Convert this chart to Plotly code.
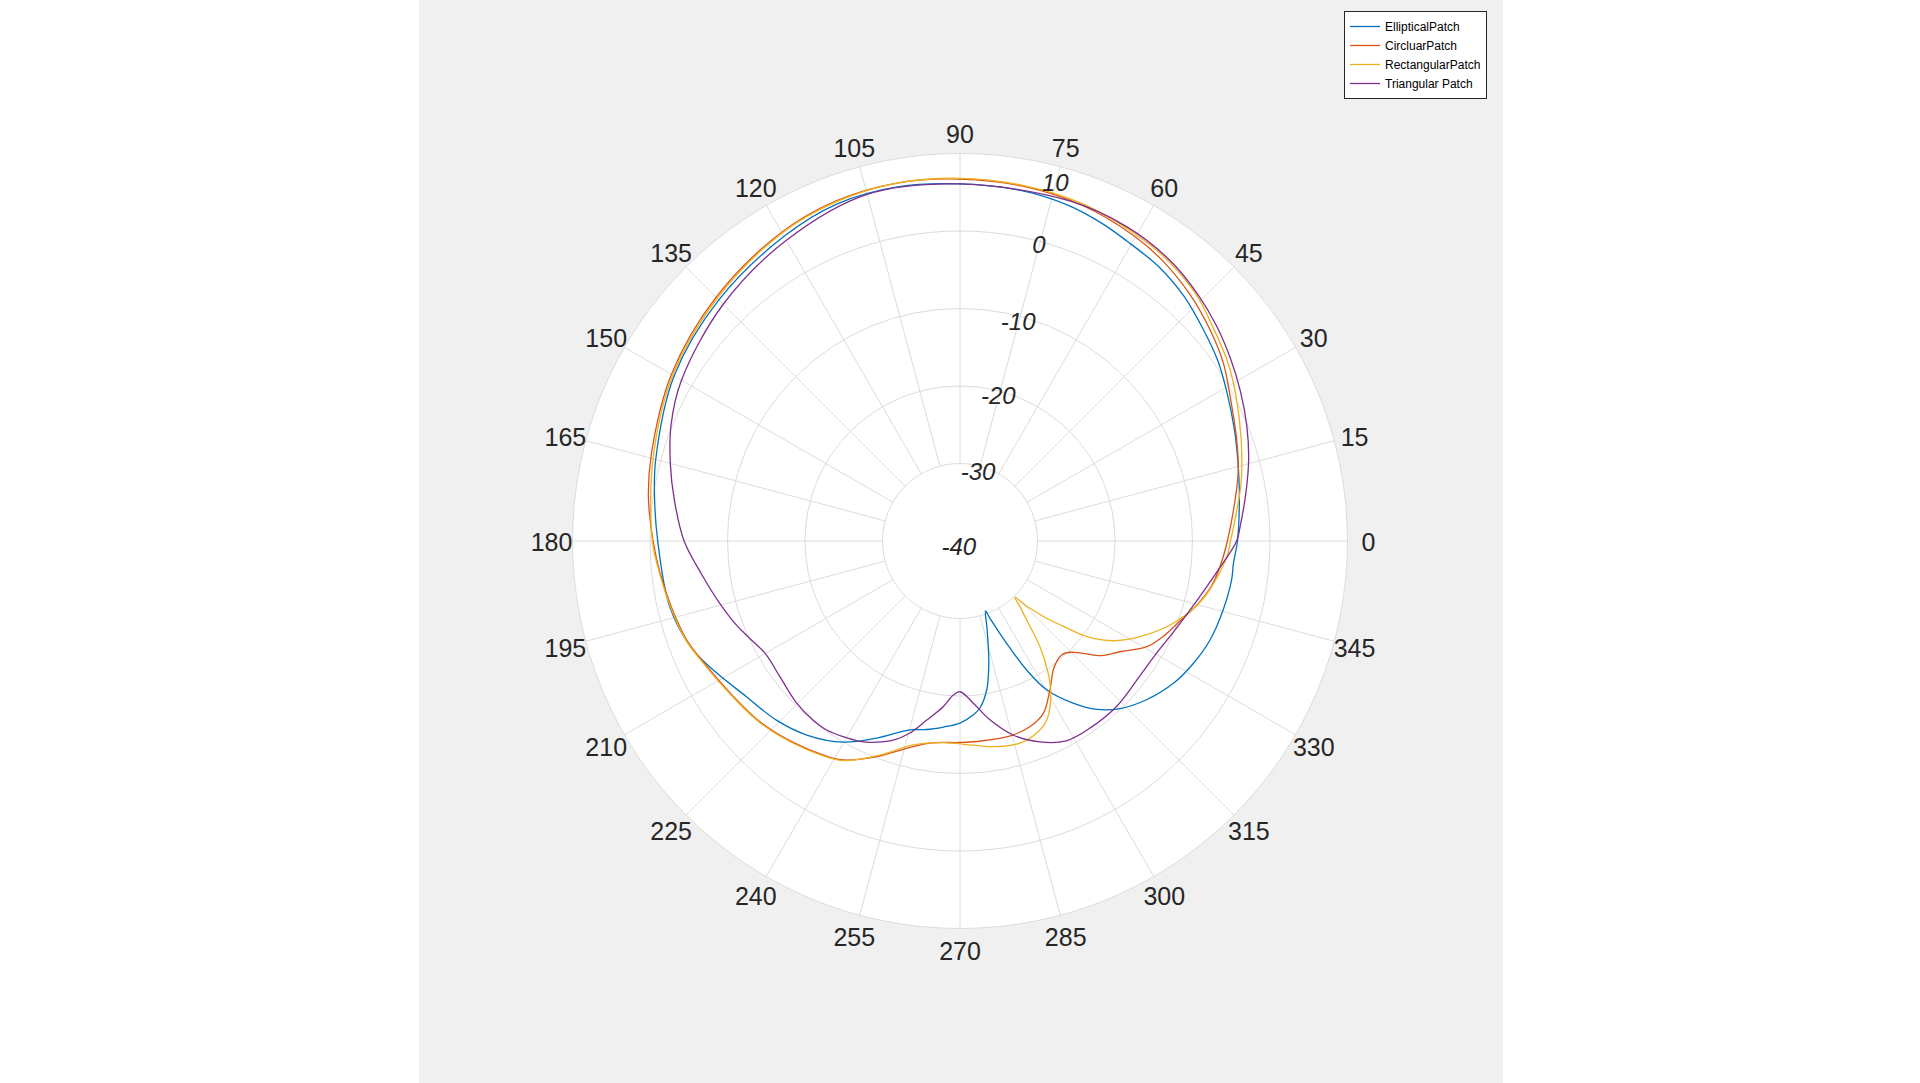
import plotly.graph_objects as go

# ---------------- data (theta in degrees, gain in dB) ----------------
ell_theta = [0, 9, 16, 22, 29, 35, 41, 47.5, 54, 61, 66, 72, 80, 90, 100, 110, 120, 135, 150, 165, 172, 180,
             192.8, 202.2, 208.5, 216.1, 224.3, 231.7, 239.9, 247.1, 255.2, 260, 264.9, 270, 274.4, 276.8,
             280.2, 283, 285, 287.5, 290, 291.2, 294.5, 297.3, 300.2, 304.9, 309.1, 313.7, 319.6, 326.3,
             332.3, 338.4, 345.3, 351.8, 355.3, 360]
ell_gain = [-4.2, -3.5, -2.7, -1.8, -0.6, 0.6, 1.6, 2.8, 3.7, 4.3, 4.9, 5.5, 5.9, 6.07, 6.4, 6.3, 5.4, 4.0, 2.6, 0.65, -0.2, -1.0,
            -1.6, -2.8, -4.3, -5.9, -6.9, -8.1, -10.0, -12.4, -14.8, -15.3, -15.9, -16.5, -17.5, -18.3,
            -20.5, -23.5, -25.9, -28.5, -30.4, -29.3, -25.5, -21.3, -17.8, -14.5, -12.0, -10.1, -8.4, -6.9,
            -6.0, -5.3, -4.9, -4.6, -4.6, -4.2]

cir_theta = [0, 8, 14, 20, 28, 34, 40, 47, 54, 60, 70, 80, 90, 100, 110, 120, 135, 150, 164, 172, 180,
             186, 193, 200, 206, 214, 222, 230, 238, 242, 249, 256, 262, 270, 276, 285, 290.7, 295.8,
             301, 306, 309, 311.7, 314, 317, 321, 325.3, 330.5, 335, 340, 345, 350, 355, 360]
cir_gain = [-5.5, -4.2, -3.0, -2.0, -0.5, 1.0, 2.2, 3.5, 4.6, 5.3, 6.1, 6.5, 6.7, 6.9, 6.7, 6.0, 4.5, 3.0, 1.4, 0.6, -0.4,
            -1.07, -1.8, -2.5, -3.5, -4.5, -5.2, -6.2, -7.3, -8.0, -10.2, -12.5, -13.7, -14.0, -14.05, -14.05, -14.4, -15.3,
            -17.5, -19.5, -20.1, -20.3, -20.0, -18.85, -16.5, -14.9, -12.3, -11.0, -9.8, -8.3, -7.0, -6.2, -5.5]

rec_theta = [0, 5, 12, 20, 28, 34, 40, 46, 53, 60, 70, 80, 90, 100, 110, 120, 135, 150, 165, 180,
             186, 193, 200, 206, 214, 222, 230, 238, 242, 249.5, 257.1, 265.3, 273.7, 280.1, 286.5, 291.7,
             295.8, 300.8, 303.7, 307.1, 310.2, 312.5, 314.3, 315.6, 318, 320.3, 322.9, 327.1, 332, 338.9,
             346.5, 356.6, 360]
rec_gain = [-5.1, -4.3, -2.9, -1.4, 0.3, 1.6, 2.7, 4.0, 5.0, 5.6, 6.3, 6.6, 6.8, 6.9, 6.6, 5.9, 4.3, 2.8, 1.0, -0.3,
            -1.0, -1.7, -2.4, -3.4, -4.4, -5.1, -6.1, -7.2, -7.9, -10.5, -13.0, -13.9, -13.6, -13.05, -12.8, -13.3,
            -14.3, -17.1, -19.5, -22.9, -26.7, -28.6, -29.85, -28.0, -25.3, -22.9, -19.6, -16.3, -13.7, -10.5,
            -7.8, -5.5, -5.1]

tri_theta = [0, 3, 9.5, 16, 22, 28, 34, 40, 46, 53, 62, 72, 90, 105, 120, 135, 150, 158, 165, 172, 180,
             187.4, 194.2, 200.7, 204.8, 210.2, 217, 224.8, 230.7, 234.8, 243.5, 247.5, 251.5, 255.4, 259.5,
             264.2, 267.5, 270, 274.7, 279.5, 285.4, 291.7, 298, 305, 313.4, 323.7, 330.3, 337.3, 345.8,
             353.5, 360]
tri_gain = [-4.3, -3.8, -2.6, -1.25, -0.1, 1.0, 2.1, 3.2, 4.2, 5.2, 5.9, 6.1, 6.07, 6.3, 4.8, 3.2, 1.5, 0.2, -1.3, -2.8, -4.4,
            -6.4, -7.9, -9.2, -10.1, -11.0, -10.9, -10.3, -10.1, -10.15, -11.1, -11.9, -12.9, -14.4, -16.5,
            -18.5, -20.1, -20.55, -19.0, -16.6, -14.0, -12.1, -10.8, -10.6, -10.6, -11.0, -10.8, -10.0, -8.5,
            -6.5, -4.3]

series_names = ["EllipticalPatch", "CircluarPatch", "RectangularPatch", "Triangular Patch"]
series_theta = [ell_theta, cir_theta, rec_theta, tri_theta]
series_gain = [ell_gain, cir_gain, rec_gain, tri_gain]
series_colors = ["#0072BD", "#D95319", "#EDB120", "#7E2F8E"]

theta_ticks = list(range(0, 360, 15))
theta_ticklabels = [str(t) for t in theta_ticks]
r_ticks = [-40, -30, -20, -10, 0, 10]
r_ticklabels = ["-40", "-30", "-20", "-10", "0", "10"]

# ---------------- figure geometry ----------------
W, H = 1920, 1083
cx, cy, R = 960, 541, 387.5          # centre and outer-ring radius in px
FONT = "Liberation Sans, Arial, Helvetica, sans-serif"
GRID = "#dcdcdc"
rmin, rmax = r_ticks[0], r_ticks[-1]
px_per_unit = R / (rmax - rmin)
label_gap = 21                        # px from outer ring to angular label centres
label_dy = 4                          # small downward nudge of the angular label ring (px)
r_ext = rmax + 4.0                    # radial range extends past the ring so labels fit inside
R_ext = (r_ext - rmin) * px_per_unit


def domain(x_c, y_c, rad):
    return dict(x=[(x_c - rad) / W, (x_c + rad) / W], y=[1 - (y_c + rad) / H, 1 - (y_c - rad) / H])


fig = go.Figure()

# angular grid spokes (start at the -30 ring, as in the original)
sp_r, sp_t = [], []
for t in theta_ticks:
    sp_r += [r_ticks[1], r_ticks[-1], None]
    sp_t += [t, t, None]
fig.add_trace(go.Scatterpolar(r=sp_r, theta=sp_t, mode="lines",
                              line=dict(color=GRID, width=1),
                              hoverinfo="skip", showlegend=False))

for name, th, g, c in zip(series_names, series_theta, series_gain, series_colors):
    fig.add_trace(go.Scatterpolar(r=g, theta=th, mode="lines", name=name,
                                  line=dict(color=c, width=1.3, shape="spline", smoothing=1.0)))

# radial tick labels (placed along ~75 deg, like MATLAB's RAxisLocation)
lab_r = [-38.9, -31.0, -20.9, -11.0, -0.7, 7.5]
lab_t = [262, 75, 75, 75, 75, 75]
fig.add_trace(go.Scatterpolar(r=lab_r, theta=lab_t, mode="text", text=r_ticklabels,
                              textposition="middle center",
                              textfont=dict(family=FONT, size=24, color="#262626", style="italic"),
                              hoverinfo="skip", showlegend=False))

# angular tick labels, centred on a ring just outside the outer circle
lab_ring = rmax + label_gap / px_per_unit
fig.add_trace(go.Scatterpolar(r=[lab_ring] * len(theta_ticks), theta=theta_ticks, mode="text",
                              text=theta_ticklabels, textposition="middle center", subplot="polar2",
                              textfont=dict(family=FONT, size=25, color="#262626"),
                              hoverinfo="skip", showlegend=False))

fig.update_layout(
    width=W, height=H,
    margin=dict(l=0, r=0, t=0, b=0),
    paper_bgcolor="white",
    shapes=[
        dict(type="rect", xref="paper", yref="paper",
             x0=419 / W, x1=1503 / W, y0=0, y1=1,
             fillcolor="#f0f0f0", line=dict(width=0), layer="below"),
        dict(type="circle", xref="paper", yref="paper",
             x0=(cx - R) / W, x1=(cx + R) / W, y0=1 - (cy + R) / H, y1=1 - (cy - R) / H,
             fillcolor="white", line=dict(width=0), layer="below"),
    ],
    polar=dict(
        domain=domain(cx, cy, R_ext),
        bgcolor="rgba(0,0,0,0)",
        radialaxis=dict(range=[rmin, r_ext], tickvals=r_ticks[1:], showticklabels=False,
                        ticks="", showline=False, gridcolor=GRID, gridwidth=1, angle=75),
        angularaxis=dict(rotation=0, direction="counterclockwise",
                         showticklabels=False, ticks="", showgrid=False, showline=False),
    ),
    polar2=dict(
        domain=domain(cx, cy + label_dy, R_ext),
        bgcolor="rgba(0,0,0,0)",
        radialaxis=dict(range=[rmin, r_ext], visible=False),
        angularaxis=dict(rotation=0, direction="counterclockwise", visible=False),
    ),
    legend=dict(x=1344 / W, y=1 - 11 / H, xanchor="left", yanchor="top",
                bgcolor="white", bordercolor="#262626", borderwidth=1,
                font=dict(family=FONT, size=12, color="#000000"),
                itemwidth=30, tracegroupgap=0),
    showlegend=True,
)

fig.write_html("out.html")
